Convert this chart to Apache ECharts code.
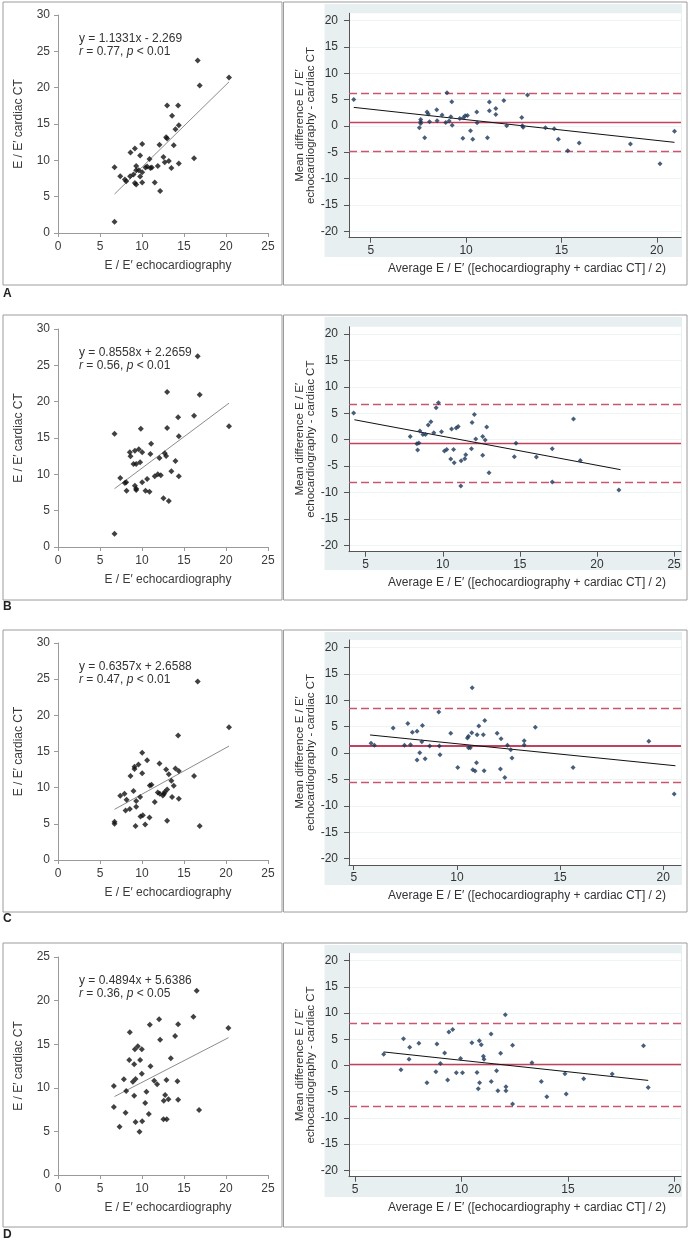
<!DOCTYPE html>
<html><head><meta charset="utf-8">
<script src="https://cdn.jsdelivr.net/npm/echarts@6/dist/echarts.min.js"></script>
<style>html,body{margin:0;padding:0;background:#fff}#c{width:693px;height:1242px}</style>
</head><body><div id="c"></div>
<script>
// ---------- DATA ----------
// Left panels: E/E' echocardiography (x) vs E/E' cardiac CT (y)
const corrA = [[6.73,9.05],[6.73,1.56],[7.41,7.81],[7.96,7.35],[8.12,7.12],[8.59,7.81],[8.63,11.07],[8.99,8.04],[9.15,11.62],[9.15,6.89],[9.31,9.23],[9.31,6.66],[9.31,8.64],[9.62,8.64],[9.78,10.66],[9.78,7.76],[10.02,12.26],[10.02,8.36],[10.02,6.94],[10.42,9.0],[10.61,9.14],[10.89,10.2],[11.0,8.96],[11.17,9.0],[11.52,6.94],[11.88,9.23],[12.08,12.13],[12.16,5.79],[12.55,10.47],[12.71,9.74],[12.87,13.18],[12.99,17.55],[12.99,13.0],[13.19,9.92],[13.5,8.96],[13.58,16.12],[13.78,12.08],[13.98,14.29],[14.3,17.55],[14.38,14.84],[14.38,9.55],[16.2,10.29],[16.63,23.75],[16.87,20.3],[20.36,21.41]];
const corrB = [[6.73,15.6],[6.73,1.83],[7.41,9.5],[7.96,8.8],[8.12,8.9],[8.16,7.75],[8.55,13.03],[8.63,12.48],[8.99,11.42],[9.15,13.26],[9.15,8.44],[9.31,11.42],[9.31,8.03],[9.31,7.84],[9.62,13.44],[9.78,11.65],[9.86,16.28],[10.02,13.03],[10.02,8.9],[10.42,7.75],[10.61,9.36],[10.89,7.61],[11.0,12.8],[11.09,14.22],[11.52,9.72],[11.88,10.0],[12.08,12.25],[12.24,9.86],[12.55,6.7],[12.71,12.89],[12.87,12.52],[12.99,21.33],[12.99,16.38],[13.19,6.33],[13.5,10.41],[13.98,11.83],[14.3,17.84],[14.38,15.23],[14.38,9.72],[16.2,18.07],[16.63,26.24],[16.87,20.96],[20.36,16.61]];
const corrC = [[6.73,5.29],[6.73,5.02],[7.41,8.88],[7.92,9.16],[8.16,8.33],[8.04,6.86],[8.55,7.04],[8.63,11.6],[8.99,9.53],[9.11,12.89],[9.11,12.57],[9.23,4.69],[9.31,8.15],[9.31,7.36],[9.58,13.21],[9.78,8.7],[9.82,6.03],[10.02,14.82],[10.02,12.01],[10.1,6.17],[10.38,4.92],[10.61,13.8],[10.89,5.89],[10.93,10.31],[11.13,10.4],[11.52,8.01],[11.88,9.34],[12.08,13.35],[12.12,9.16],[12.48,8.93],[12.63,9.16],[12.71,9.39],[12.87,12.52],[12.99,9.76],[12.99,5.43],[13.19,11.87],[13.5,10.95],[13.58,8.7],[13.78,10.26],[13.98,12.66],[14.3,17.2],[14.38,12.29],[14.38,8.47],[16.2,11.6],[16.63,24.67],[16.87,4.69],[20.36,18.36]];
const corrD = [[6.65,10.2],[6.65,7.8],[7.33,5.54],[7.84,10.97],[8.04,7.15],[8.12,9.63],[8.55,16.36],[8.48,13.19],[8.91,10.7],[9.07,12.69],[9.07,9.1],[9.15,14.41],[9.23,11.0],[9.23,6.08],[9.5,14.76],[9.7,4.97],[9.78,13.19],[9.98,14.41],[9.98,11.62],[10.02,6.15],[10.38,8.26],[10.53,9.56],[10.81,7.0],[10.93,17.24],[11.01,12.46],[11.45,10.82],[11.8,10.4],[12.04,17.85],[12.16,15.52],[12.55,6.38],[12.59,8.52],[12.75,9.17],[12.91,10.89],[12.95,6.38],[13.15,8.68],[13.43,13.38],[13.94,15.94],[14.22,10.74],[14.3,17.28],[14.3,8.64],[16.12,18.16],[16.51,21.14],[16.79,7.45],[20.28,16.86]];
// Regression line end points
const fitA = [[6.73,5.36],[20.36,20.8]];
const fitB = [[6.73,8.03],[20.36,19.8]];
const fitC = [[6.73,7.0],[20.36,15.75]];
const fitD = [[6.73,9.0],[20.3,15.75]];
const equations = ["y = 1.1331x - 2.269","y = 0.8558x + 2.2659","y = 0.6357x + 2.6588","y = 0.4894x + 5.6386"];
const rValues = ["0.77","0.56","0.47","0.36"];
const pValues = ["< 0.01","< 0.01","< 0.01","< 0.05"];

// Right panels: Bland-Altman (average, difference)
const baA = [[4.11,5.05],[7.55,-0.32],[7.62,1.26],[7.62,0.82],[7.62,0.5],[7.83,-2.21],[7.95,2.65],[8.02,2.27],[8.08,0.82],[8.46,3.1],[8.48,1.01],[8.74,2.08],[8.93,0.69],[9.0,6.32],[9.11,0.95],[9.2,1.77],[9.25,4.61],[9.27,0.13],[9.67,1.45],[9.83,-2.34],[9.86,1.58],[9.95,1.96],[10.07,2.02],[10.23,-0.88],[10.35,-2.53],[10.56,2.65],[10.58,0.63],[11.12,-2.21],[11.22,4.55],[11.22,2.9],[11.56,3.35],[11.56,2.21],[11.98,4.86],[12.13,0.06],[12.92,1.64],[12.95,0.06],[12.99,-0.25],[13.22,5.87],[14.16,-0.32],[14.62,-0.51],[14.84,-2.53],[15.33,-4.67],[15.93,-3.22],[18.62,-3.41],[20.17,-7.14],[20.93,-1.01]];
const baB = [[4.22,5.04],[7.89,0.63],[8.32,-0.76],[8.37,-1.95],[8.45,-0.63],[8.52,1.64],[8.71,1.01],[8.88,1.01],[9.06,2.77],[9.23,3.4],[9.42,1.32],[9.57,6.05],[9.72,6.99],[9.92,1.51],[10.11,-2.14],[10.26,-1.83],[10.52,-3.65],[10.57,2.02],[10.7,-1.83],[10.74,-4.35],[10.87,2.21],[11.0,2.52],[11.17,-8.76],[11.19,-3.97],[11.43,-3.59],[11.49,-2.84],[11.86,-1.7],[11.9,3.28],[12.05,4.79],[12.14,0.13],[12.59,-2.96],[12.59,0.63],[12.75,-0.06],[12.85,2.39],[13.0,-6.24],[14.64,-3.21],[14.75,-0.69],[16.07,-3.28],[17.1,-1.7],[17.1,-8.0],[18.48,3.91],[18.92,-3.91],[21.42,-9.51]];
const baC = [[5.84,1.84],[6.0,1.46],[6.91,4.75],[7.46,1.46],[7.62,5.57],[7.75,1.58],[7.84,3.92],[8.07,4.11],[8.07,-1.33],[8.2,0.06],[8.3,2.15],[8.33,5.19],[8.46,-1.08],[8.68,1.33],[9.12,7.78],[9.15,1.33],[9.18,-0.32],[9.7,3.73],[10.04,-2.72],[10.51,2.85],[10.56,3.16],[10.56,1.01],[10.65,1.01],[10.72,3.86],[10.74,12.34],[10.77,-3.16],[10.88,-3.42],[10.95,-1.84],[10.98,3.48],[11.06,5.13],[11.28,3.48],[11.32,-3.35],[11.35,6.14],[11.95,3.73],[12.11,-3.04],[12.14,2.72],[12.32,-4.62],[12.45,1.46],[12.61,0.63],[12.67,-0.95],[13.26,2.34],[13.26,1.52],[13.8,4.87],[15.63,-2.72],[19.3,2.22],[20.53,-7.78]];
const baD = [[6.35,2.15],[7.16,-0.82],[7.28,5.12],[7.54,1.2],[7.57,3.47],[8.0,4.23],[8.38,-3.28],[8.8,-1.2],[8.85,4.11],[9.01,0.38],[9.21,2.4],[9.35,-2.78],[9.41,6.38],[9.59,6.89],[9.76,-1.39],[9.96,1.33],[10.05,-1.39],[10.49,4.36],[10.73,-1.33],[10.79,-4.42],[10.84,4.74],[10.85,-3.28],[10.93,3.98],[11.03,1.77],[11.06,1.2],[11.39,6.0],[11.4,-3.03],[11.65,-1.01],[11.71,-4.8],[11.84,2.34],[12.06,9.67],[12.09,-4.04],[12.09,-4.8],[12.4,3.85],[12.4,-7.33],[13.31,0.51],[13.75,-3.03],[14.01,-5.94],[14.86,-1.58],[14.92,-5.43],[15.74,-2.53],[17.08,-1.64],[18.55,3.79],[18.77,-4.17]];
// Bland-Altman trend line end points
const baFitA = [[4.11,3.54],[20.93,-3.1]];
const baFitB = [[4.27,3.78],[21.53,-5.67]];
const baFitC = [[5.79,3.42],[20.59,-2.41]];
const baFitD = [[6.35,2.59],[18.77,-2.84]];
// Limits of agreement: [upper, mean, lower]
const loaA = [6.13, 0.69, -4.8];
const loaB = [6.68, -0.63, -8.0];
const loaC = [8.48, 1.46, -5.57];
const loaD = [8.0, 0.15, -7.7];
// Tick labels
const baYTicks = [-20,-15,-10,-5,0,5,10,15,20];
const baXTicksA = [5,10,15,20];
const baXTicksB = [5,10,15,20,25];
const baXTicksC = [5,10,15,20];
const baXTicksD = [5,10,15,20];
const panelLetters = ["A","B","C","D"];

// ---------- LAYOUT ----------
const FONT = "'Liberation Sans Narrow','Liberation Sans',Arial,sans-serif";
const rows = [
  {box:[2,285], lt:15, lh:218, lymax:30, pt:13.3, pb:237.7, tint:[4,257], xr:[3.86,21.27], xt:baXTicksA, ly:294, corr:corrA, fit:fitA, ba:baA, bafit:baFitA, loa:loaA, meanW:1.3},
  {box:[315,600], lt:329, lh:218, lymax:30, pt:326.7, pb:551.7, tint:[317,570], xr:[3.92,25.45], xt:baXTicksB, ly:607, corr:corrB, fit:fitB, ba:baB, bafit:baFitB, loa:loaB, meanW:1.3},
  {box:[630,912], lt:643, lh:217, lymax:30, pt:640, pb:865, tint:[632,885], xr:[4.77,20.86], xt:baXTicksC, ly:919, corr:corrC, fit:fitC, ba:baC, bafit:baFitC, loa:loaC, meanW:2},
  {box:[943,1227], lt:957, lh:218, lymax:25, pt:953.3, pb:1176.7, tint:[945,1197], xr:[4.72,20.31], xt:baXTicksD, ly:1235, corr:corrD, fit:fitD, ba:baD, bafit:baFitD, loa:loaD, meanW:1.3}
];
const grids=[], xAxes=[], yAxes=[], series=[], graphics=[];
const txt = (c,s)=>({color:c, fontSize:s, fontFamily:FONT});
rows.forEach((r,i)=>{
  const g0 = grids.length;
  // left scatter grid
  grids.push({left:58, top:r.lt, width:210, height:r.lh, containLabel:false});
  xAxes.push({gridIndex:g0, type:'value', min:0, max:25, interval:5, z:2,
    axisLine:{onZero:false, lineStyle:{color:'#9a9a9a'}}, axisTick:{length:4, lineStyle:{color:'#9a9a9a'}},
    axisLabel:{...txt('#3a3a3a',12), margin:8}, splitLine:{show:false},
    name:'E / E\u2032 echocardiography', nameLocation:'middle', nameGap:27,
    nameTextStyle:{...txt('#3a3a3a',12), padding:[0,0,0,10]}});
  yAxes.push({gridIndex:g0, type:'value', min:0, max:r.lymax, interval:5, z:2,
    axisLine:{onZero:false, lineStyle:{color:'#9a9a9a'}}, axisTick:{length:4, lineStyle:{color:'#9a9a9a'}},
    axisLabel:{...txt('#3a3a3a',12), margin:8}, splitLine:{show:false},
    name:'E / E\u2032 cardiac CT', nameLocation:'middle', nameGap:33,
    nameTextStyle:txt('#3a3a3a',12)});
  series.push({type:'scatter', xAxisIndex:g0, yAxisIndex:g0, data:r.corr, symbol:'diamond', symbolSize:6,
    itemStyle:{color:'#111'}, z:4, silent:true});
  series.push({type:'line', xAxisIndex:g0, yAxisIndex:g0, data:r.fit, symbol:'none', showSymbol:false,
    lineStyle:{color:'#8c8c8c', width:1}, z:3, silent:true});

  // tint grid (background band)
  const g1 = grids.length;
  grids.push({left:324.5, top:r.tint[0], width:357.5, height:r.tint[1]-r.tint[0], show:true,
    backgroundColor:'#e7eff1', borderWidth:0, z:0});
  xAxes.push({gridIndex:g1, type:'value', show:false, min:0, max:1});
  yAxes.push({gridIndex:g1, type:'value', show:false, min:0, max:1});

  // Bland-Altman plot grid
  const g2 = grids.length;
  grids.push({left:349, top:r.pt, width:332, height:r.pb-r.pt, show:true, backgroundColor:'#ffffff', borderWidth:0, z:1});
  xAxes.push({gridIndex:g2, type:'value', min:r.xr[0], max:r.xr[1], z:2,
    axisLine:{onZero:false, lineStyle:{color:'#555', width:1}},
    axisTick:{length:5, customValues:r.xt, lineStyle:{color:'#555'}},
    axisLabel:{...txt('#333',12), margin:7, customValues:r.xt}, splitLine:{show:false},
    name:'Average E / E\u2032 ([echocardiography + cardiac CT] / 2)', nameLocation:'middle', nameGap:25,
    nameTextStyle:{...txt('#333',12), padding:[0,0,0,24]}});
  yAxes.push({gridIndex:g2, type:'value', min:-21.2, max:21.4, z:2,
    axisLine:{onZero:false, lineStyle:{color:'#555', width:1}},
    axisTick:{length:5, customValues:baYTicks, lineStyle:{color:'#555'}},
    axisLabel:{...txt('#333',12), margin:11, customValues:baYTicks},
    splitLine:{show:true, lineStyle:{color:'#eef3f3', width:1}},
    name:'Mean difference E / E\u2032\nechocardiography - cardiac CT', nameLocation:'middle', nameGap:31,
    nameTextStyle:{...txt('#333',11.5), lineHeight:11}});
  const dashed = {type:[8,4], color:'#c9566f', width:1.3};
  series.push({type:'scatter', xAxisIndex:g2, yAxisIndex:g2, data:r.ba, symbol:'diamond', symbolSize:5,
    itemStyle:{color:'#1b3758'}, z:5, silent:true,
    markLine:{silent:true, symbol:['none','none'], label:{show:false}, animation:false, z:3,
      data:[{yAxis:r.loa[0], lineStyle:dashed},
            {yAxis:r.loa[1], lineStyle:{type:'solid', color:'#c2415c', width:r.meanW}},
            {yAxis:r.loa[2], lineStyle:dashed}]}});
  series.push({type:'line', xAxisIndex:g2, yAxisIndex:g2, data:r.bafit, symbol:'none', showSymbol:false,
    lineStyle:{color:'#111', width:1}, z:4, silent:true});

  // boxes
  graphics.push({type:'rect', shape:{x:3, y:r.box[0], width:279, height:r.box[1]-r.box[0]},
    style:{fill:'none', stroke:'#9c9c9c', lineWidth:1}, z:10, silent:true});
  graphics.push({type:'rect', shape:{x:283.5, y:r.box[0], width:403.5, height:r.box[1]-r.box[0]},
    style:{fill:'none', stroke:'#9c9c9c', lineWidth:1}, z:10, silent:true});
  // annotation
  graphics.push({type:'text', x:79, y:r.lt+24, z:10, silent:true,
    style:{text:equations[i], fill:'#333', font:"12px "+FONT, verticalAlign:'middle'}});
  graphics.push({type:'text', x:79, y:r.lt+36.5, z:10, silent:true,
    style:{text:'{i|r} = '+rValues[i]+', {i|p} '+pValues[i], fill:'#333', font:"12px "+FONT, verticalAlign:'middle',
      rich:{i:{fontStyle:'italic', fontSize:12, fontFamily:FONT, fill:'#333'}}}});
  // panel letter
  graphics.push({type:'text', x:3, y:r.ly, z:10, silent:true,
    style:{text:panelLetters[i], fill:'#222', font:"bold 12px "+FONT, verticalAlign:'middle'}});
});

const chart = echarts.init(document.getElementById('c'), null, {renderer:'canvas'});
chart.setOption({
  animation:false,
  backgroundColor:'#ffffff',
  grid:grids, xAxis:xAxes, yAxis:yAxes, series:series,
  graphic:{elements:graphics}
});
</script>
</body></html>
